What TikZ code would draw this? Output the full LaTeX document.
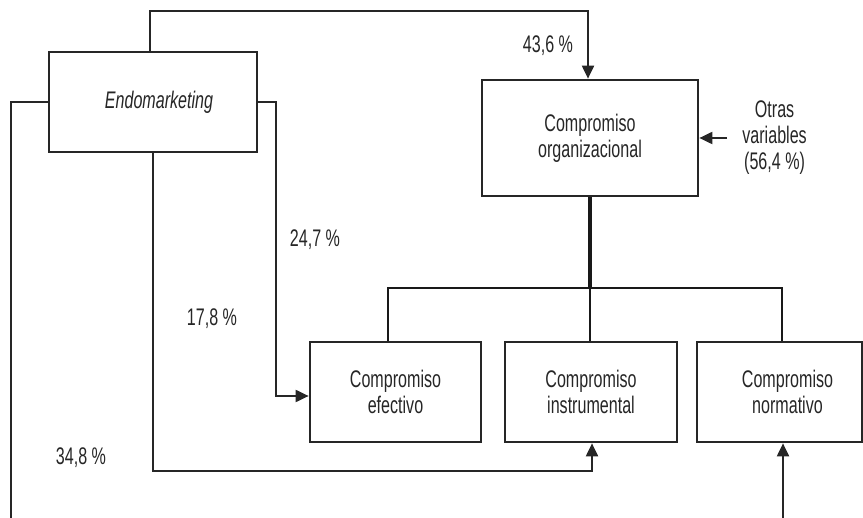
\documentclass[tikz,border=0pt]{standalone}
\usepackage{fontspec}
\setmainfont{Liberation Sans}[FakeStretch=0.67]
\usetikzlibrary{arrows.meta,positioning}

\begin{document}
\begin{tikzpicture}[x=0.5pt, y=-0.5pt,
  txt/.style={font=\fontsize{12}{13}\selectfont, text=black!85},
  box/.style={txt, draw=black!85, line width=1.35pt, align=center, minimum height=50pt, inner sep=2pt},
  conn/.style={draw=black!85, line width=1pt, -{Triangle[length=6.5pt,width=6pt]}},
  tree/.style={draw=black!90, line width=1.4pt}]
  \useasboundingbox (0,0) rectangle (863,518);
  \clip (0,0) rectangle (863,518);

  % boxes
  \node[box, minimum width=104pt] (endo) at (153,102) {\itshape\hspace*{6pt}Endomarketing};
  \node[box, minimum width=108pt, minimum height=58pt] (org) at (590,138) {Compromiso\\organizacional};
  \node[box, minimum width=85.5pt] (efe) at (395.5,392) {Compromiso\\efectivo};
  \node[box, minimum width=86pt] (ins) at (591,392) {Compromiso\\instrumental};
  \node[box, minimum width=82.5pt] (nor) at (779.5,392) {\hspace*{8pt}Compromiso\\\hspace*{8pt}normativo};
  \node[txt, align=center, inner xsep=7.5pt, anchor=west] (otras) at (698+29,138) {Otras\\variables\\(56,4 \%)};

  % percentages
  \node[txt] (p1) at (548,46) {43,6 \%};
  \node[txt] (p2) at (315,240) {24,7 \%};
  \node[txt] (p3) at (212,319) {17,8 \%};
  \node[txt] (p4) at (81,458) {34,8 \%};

  % connectors
  \coordinate (lowleft) at (11,540);
  \draw[conn] ([xshift=-1.5pt]endo.north) -- ++(0,-40) -| ([xshift=-1pt]org.north);
  \draw[conn] (endo.east) -- ++(18,0) |- ([yshift=-2pt]efe.west);
  \draw[conn] (endo.south) -- ++(0,318) -| ([xshift=0.5pt]ins.south);
  \draw[conn] (endo.west) -| (lowleft) -| ([xshift=1.75pt]nor.south);
  \draw[conn] (otras.west) -- (org.east);

  % tree
  \coordinate (jn) at (590,288);
  \draw[tree, line width=1.6pt] (org.south) -- (jn);
  \draw[tree] (jn) -| ([xshift=-3.75pt]efe.north);
  \draw[tree] (jn) -- (jn |- ins.north);
  \draw[tree] (jn) -| ([xshift=1.25pt]nor.north);
\end{tikzpicture}
\end{document}
